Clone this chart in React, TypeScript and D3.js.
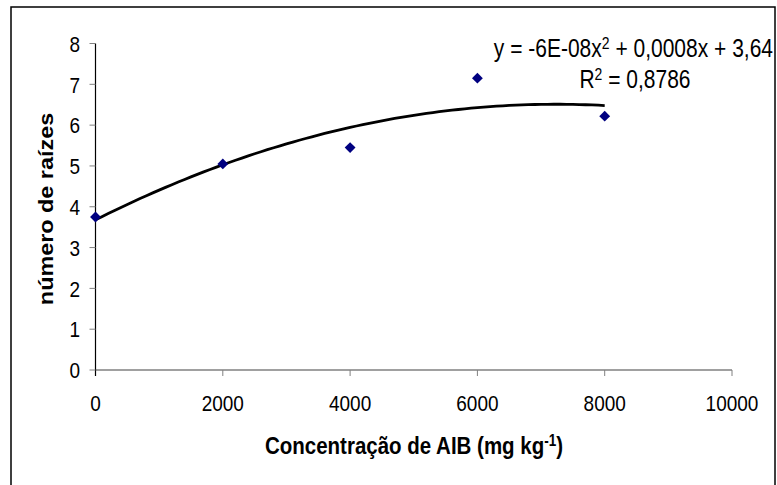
import React from "react";
import * as d3 from "d3";

const xValues = [0, 2000, 4000, 6000, 8000];
const yValues = [3.75, 5.05, 5.45, 7.15, 6.22];
const xTicks = [0, 2000, 4000, 6000, 8000, 10000];
const yTicks = [0, 1, 2, 3, 4, 5, 6, 7, 8];
// trendline coefficients (as drawn): a*x^2 + b*x + c
const trendCoef = [-5.4e-8, 0.000782, 3.68];
const trendRange = [0, 8000];

const W = 777;
const H = 485;
const font = "Liberation Sans, Arial, sans-serif";
const SY = 1.2; // vertical stretch of the text in the reference

function T({
  x,
  y,
  rotate = 0,
  children,
  ...rest
}: {
  x: number;
  y: number;
  rotate?: number;
  children: React.ReactNode;
  [k: string]: any;
}) {
  return (
    <g transform={`translate(${x},${y}) scale(1,${SY}) rotate(${rotate})`}>
      <text x={0} y={0} fill="#000" {...rest}>
        {children}
      </text>
    </g>
  );
}

export default function App() {
  const x = d3.scaleLinear().domain([0, 10000]).range([95.5, 732]);
  const y = d3.scaleLinear().domain([0, 8]).range([370, 43.5]);
  const [a, b, c] = trendCoef;
  const trendX = d3.range(trendRange[0], trendRange[1] + 1, 100);
  const line = d3
    .line<number>()
    .x((d) => x(d))
    .y((d) => y(a * d * d + b * d + c))
    .curve(d3.curveLinear);
  const diamond = d3.symbol().type(d3.symbolDiamond2).size(75)();

  return (
    <svg
      width={W}
      height={H}
      style={{ position: "absolute", left: 0, top: 0, background: "#fff" }}
      fontFamily={font}
    >
      <rect x={11} y={7} width={764} height={490} fill="#fff" stroke="#000" strokeWidth={1.5} />
      {/* x axis */}
      <line x1={x(0)} x2={x(10000)} y1={y(0)} y2={y(0)} stroke="#808080" strokeWidth={1.5} />
      {xTicks.map((t) => (
        <g key={"xt" + t}>
          <line x1={x(t)} x2={x(t)} y1={y(0)} y2={y(0) + 6} stroke="#808080" strokeWidth={1} />
          <T x={x(t)} y={411} textAnchor="middle" fontSize={19}>
            {t}
          </T>
        </g>
      ))}
      {/* y axis */}
      <line x1={x(0)} x2={x(0)} y1={y(8)} y2={y(0) + 6} stroke="#000" strokeWidth={1.2} />
      {yTicks.map((t) => (
        <g key={"yt" + t}>
          <line x1={x(0) - 6} x2={x(0)} y1={y(t)} y2={y(t)} stroke="#808080" strokeWidth={1} />
          <T x={80} y={y(t) + 8.2} textAnchor="end" fontSize={19}>
            {t}
          </T>
        </g>
      ))}
      {/* trendline */}
      <path d={line(trendX) || ""} fill="none" stroke="#000" strokeWidth={2.8} />
      {/* points */}
      {xValues.map((v, i) => (
        <path
          key={"p" + i}
          d={diamond || ""}
          transform={`translate(${x(v)},${y(yValues[i])})`}
          fill="#000080"
        />
      ))}
      {/* equation */}
      <T x={773} y={57} textAnchor="end" fontSize={21}>
        y = -6E-08x<tspan dy={-7} fontSize={14}>2</tspan>
        <tspan dy={7}> + 0,0008x + 3,64</tspan>
      </T>
      <T x={635} y={88} textAnchor="middle" fontSize={21}>
        R<tspan dy={-7} fontSize={14}>2</tspan>
        <tspan dy={7}> = 0,8786</tspan>
      </T>
      {/* axis titles */}
      <T x={414} y={454} textAnchor="middle" fontSize={20.5} fontWeight="bold">
        Concentração de AIB (mg kg<tspan dy={-7} fontSize={13.5}>-1</tspan>
        <tspan dy={7}>)</tspan>
      </T>
      <T x={53} y={209} rotate={-90} textAnchor="middle" fontSize={19.5} fontWeight="bold">
        número de raízes
      </T>
    </svg>
  );
}
